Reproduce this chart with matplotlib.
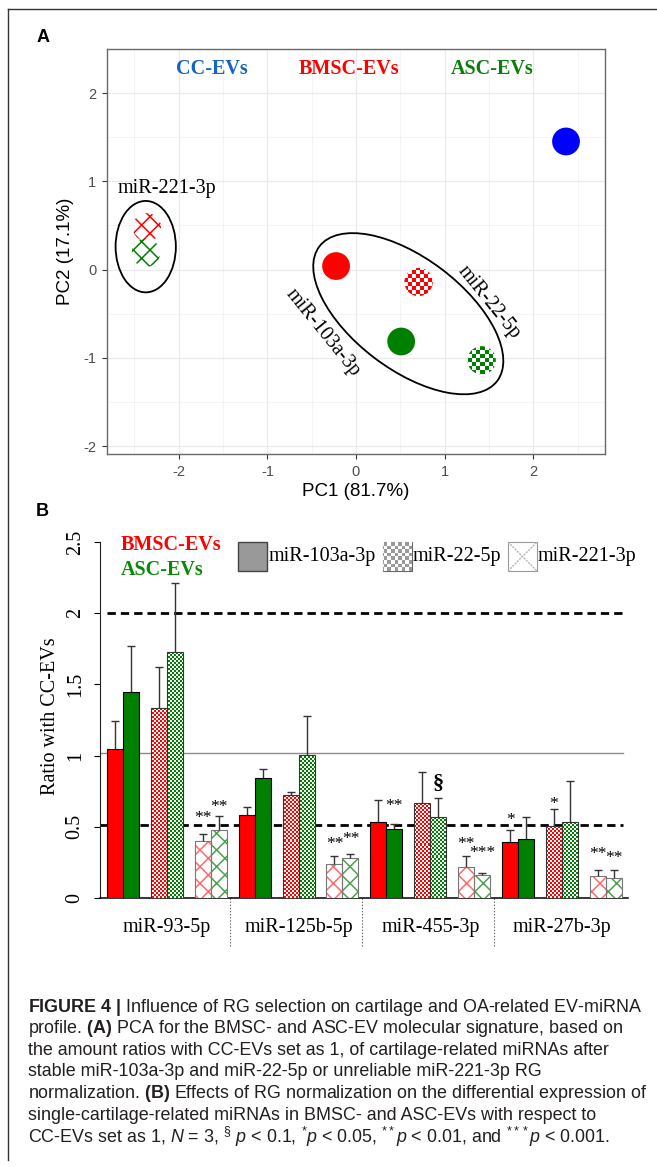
import numpy as np
import matplotlib
matplotlib.use("Agg")
import matplotlib.pyplot as plt
from matplotlib.patches import Circle, Ellipse, Rectangle
from matplotlib.colors import ListedColormap
from matplotlib.lines import Line2D
from matplotlib import font_manager

# ---- panel A: PCA scores ----
pca_names = ["CC-EVs", "BMSC 103a", "BMSC 22", "BMSC 221", "ASC 103a", "ASC 22", "ASC 221"]
pca_pc1 = [2.37, -0.225, 0.706, -2.36, 0.51, 1.418, -2.37]
pca_pc2 = [1.452, 0.04, -0.141, 0.48, -0.815, -1.028, 0.19]
pca_kind = ["solid", "solid", "checker", "cross", "solid", "checker", "cross"]
pca_col = ["#0000ff", "#ff0000", "#ff0000", "#ff0000", "#008000", "#008000", "#008000"]

# ---- panel B: ratio with CC-EVs ----
groups = ["miR-93-5p", "miR-125b-5p", "miR-455-3p", "miR-27b-3p"]
ref_genes = ["miR-103a-3p", "miR-22-5p", "miR-221-3p"]
bmsc_ratio = [[1.044, 1.332, 0.398], [0.580, 0.724, 0.237], [0.532, 0.668, 0.218], [0.390, 0.505, 0.156]]
bmsc_err = [[0.197, 0.289, 0.049], [0.056, 0.017, 0.061], [0.154, 0.215, 0.078], [0.088, 0.123, 0.043]]
asc_ratio = [[1.450, 1.726, 0.477], [0.840, 1.004, 0.281], [0.488, 0.569, 0.164], [0.411, 0.533, 0.140]]
asc_err = [[0.319, 0.484, 0.102], [0.068, 0.272, 0.030], [0.032, 0.136, 0.010], [0.159, 0.288, 0.055]]
# (group, ref gene, 0=BMSC 1=ASC, label, height)
signif = [(0, 2, 0, "**", 0.60), (0, 2, 1, "**", 0.677),
          (1, 2, 0, "**", 0.414), (1, 2, 1, "**", 0.454),
          (2, 0, 1, "**", 0.685), (2, 1, 1, "\u00a7", 0.80), (2, 2, 0, "**", 0.418), (2, 2, 1, "***", 0.35),
          (3, 0, 0, "*", 0.585), (3, 1, 0, "*", 0.70), (3, 2, 0, "**", 0.345), (3, 2, 1, "**", 0.315)]

caption = [
    r"$\mathbf{FIGURE\ 4\ |}$ Influence of RG selection on cartilage and OA-related EV-miRNA",
    r"profile. $\mathbf{(A)}$ PCA for the BMSC- and ASC-EV molecular signature, based on",
    r"the amount ratios with CC-EVs set as 1, of cartilage-related miRNAs after",
    r"stable miR-103a-3p and miR-22-5p or unreliable miR-221-3p RG",
    r"normalization. $\mathbf{(B)}$ Effects of RG normalization on the differential expression of",
    r"single-cartilage-related miRNAs in BMSC- and ASC-EVs with respect to",
    r"CC-EVs set as 1, $\mathit{N}$ = 3, $^{\S}\ \mathit{p}$ < 0.1, $^{*}\mathit{p}$ < 0.05, "
    r"$^{**}\mathit{p}$ < 0.01, and $^{***}\mathit{p}$ < 0.001.",
]

SERIF = "Liberation Serif"
SANS = "Liberation Sans"
names = {f.name for f in font_manager.fontManager.ttflist}
CAPF = "Liberation Sans Narrow" if "Liberation Sans Narrow" in names else SANS

plt.rcParams["axes.unicode_minus"] = False
plt.rcParams["hatch.linewidth"] = 1.1
plt.rcParams["mathtext.fontset"] = "custom"
plt.rcParams["mathtext.rm"] = CAPF
plt.rcParams["mathtext.it"] = CAPF + ":italic"
plt.rcParams["mathtext.bf"] = CAPF + ":bold"

W, H = 657, 1167
fig = plt.figure(figsize=(W / 100, H / 100), dpi=100)


def box(l, t, r, b):
    return [l / W, 1 - b / H, (r - l) / W, (b - t) / H]


def checker_fill(ax, patch, color, cell):
    bb = ax.get_window_extent()
    nx = max(1, int(round(bb.width / cell)))
    ny = max(1, int(round(bb.height / cell)))
    arr = np.add.outer(np.arange(ny), np.arange(nx)) % 2
    im = ax.imshow(arr, cmap=ListedColormap(["white", color]), extent=(0, 1, 0, 1),
                   transform=ax.transAxes, interpolation="nearest", aspect="auto",
                   zorder=patch.get_zorder() + 0.1)
    im.set_clip_path(patch)
    return im


# ================= panel A =================
axA = fig.add_axes(box(107, 49, 605, 454))
r = 0.16
for x, y, k, c in zip(pca_pc1, pca_pc2, pca_kind, pca_col):
    if k == "solid":
        axA.scatter([x], [y], s=400, c=c, edgecolors="none", zorder=3)
    elif k == "checker":
        circ = Circle((x, y), r, facecolor="white", edgecolor="none", zorder=3)
        axA.add_patch(circ)
        checker_fill(axA, circ, c, 4)
    else:
        axA.add_patch(Circle((x, y), r, facecolor="none", edgecolor=c, hatch="xx", lw=0, zorder=3))

axA.add_patch(Ellipse((-2.373, 0.26), 0.68, 1.036, fill=False, edgecolor="black", lw=1.3, zorder=4))
axA.add_patch(Ellipse((0.59, -0.50), 2.52, 1.26, angle=-37.3, fill=False, edgecolor="black", lw=1.3, zorder=4))
axA.text(-2.14, 0.92, "miR-221-3p", family=SERIF, fontsize=14.5, ha="center", va="center")
axA.text(-0.373, -0.71, "miR-103a-3p", family=SERIF, fontsize=14.5, ha="center", va="center", rotation=-51)
axA.text(1.50, -0.37, "miR-22-5p", family=SERIF, fontsize=14.5, ha="center", va="center", rotation=-51)
for lab, xx, col in [("CC-EVs", -1.63, "#1565c0"), ("BMSC-EVs", -0.08, "#ff0000"), ("ASC-EVs", 1.54, "#0a7d0a")]:
    axA.text(xx, 2.277, lab, family=SERIF, fontsize=14.5, weight="bold", color=col, ha="center", va="center")

axA.set_xlim(-2.81, 2.81)
axA.set_ylim(-2.09, 2.49)
axA.set_xticks([-2, -1, 0, 1, 2])
axA.set_yticks([-2, -1, 0, 1, 2])
axA.set_xticks(np.arange(-2.5, 2.6, 1), minor=True)
axA.set_yticks(np.arange(-1.5, 2.6, 1), minor=True)
axA.grid(which="major", color="#ebebeb", lw=0.9, zorder=0)
axA.grid(which="minor", color="#f3f3f3", lw=0.6, zorder=0)
axA.set_axisbelow(True)
axA.tick_params(which="major", length=3.6, width=0.8, color="#333333", labelcolor="#4d4d4d",
                labelsize=10.5, pad=4)
axA.tick_params(which="minor", length=0)
for s in axA.spines.values():
    s.set_color("#6a6a6a")
    s.set_linewidth(1.0)
for t in axA.get_xticklabels() + axA.get_yticklabels():
    t.set_family(SANS)
axA.set_xlabel("PC1 (81.7%)", family=SANS, fontsize=13.5, va="center")
axA.xaxis.set_label_coords(0.5, -38 / 405)
axA.set_ylabel("PC2 (17.1%)", family=SANS, fontsize=13.5, va="center", ha="center")
axA.yaxis.set_label_coords(-42 / 498, 0.5)

# ================= panel B =================
axB = fig.add_axes(box(100, 542, 628, 898))
first, step, bw = 0.75, 2.75, 1.0
light = {"#ff0000": "#ff6b6b", "#008000": "#4fa04f"}
sources = [(bmsc_ratio, bmsc_err, "#ff0000"), (asc_ratio, asc_err, "#008000")]
for g in range(len(groups)):
    for rg in range(len(ref_genes)):
        xl = first + step * (g * 3 + rg)
        for si, (vals, errs, col) in enumerate(sources):
            x = xl + si * bw
            v, e = vals[g][rg], errs[g][rg]
            if rg == 0:
                axB.bar(x, v, bw, align="edge", color=col, edgecolor="black", lw=0.8, zorder=3)
            elif rg == 1:
                b = axB.bar(x, v, bw, align="edge", color="white", edgecolor="none", zorder=3)
                checker_fill(axB, b[0], col, 2)
                axB.bar(x, v, bw, align="edge", fill=False, edgecolor="#333333", lw=0.8, zorder=4)
            else:
                axB.bar(x, v, bw, align="edge", color="white", edgecolor=light[col], hatch="xx", lw=0, zorder=3)
                axB.bar(x, v, bw, align="edge", fill=False, edgecolor="#777777", lw=0.8, zorder=4)
            xc = x + bw / 2
            axB.vlines(xc, v, v + e, color="#333333", lw=1.0, zorder=5)
            axB.hlines(v + e, xc - 0.25, xc + 0.25, color="#333333", lw=1.0, zorder=5)

for g, rg, si, lab, y in signif:
    xc = first + step * (g * 3 + rg) + si * bw + bw / 2
    if lab == "\u00a7":
        axB.text(xc, y, lab, family=SERIF, fontsize=16, weight="bold", ha="center", va="center", zorder=6)
    else:
        axB.text(xc, y - 0.065, lab, family=SERIF, fontsize=12.5, ha="center", va="baseline", zorder=6)

axB.plot([0.75, 33.25], [2.0, 2.0], color="black", lw=2, dashes=(3, 1.8), zorder=2)
axB.plot([0.31, 33.1], [1.02, 1.02], color="#8c8c8c", lw=1, zorder=2)
axB.plot([0.31, 33.05], [0.51, 0.51], color="black", lw=2, dashes=(3, 1.8), zorder=2)

for k in range(1, len(groups)):
    xs = first + step * 3 * k - 0.375 - 0.15
    axB.plot([xs, xs], [0, -0.345], color="#666666", lw=0.8, dashes=(1.2, 1.6), clip_on=False)
for g, name in enumerate(groups):
    xc = first + step * 3 * g + 3.75
    axB.text(xc, -0.204, name, family=SERIF, fontsize=14.5, ha="center", va="center", clip_on=False)

axB.set_xlim(0.31, 33.39)
axB.set_ylim(0, 2.5)
axB.set_xticks([])
axB.set_yticks([0, 0.5, 1, 1.5, 2, 2.5], ["0", "0.5", "1", "1.5", "2", "2.5"])
axB.tick_params(axis="y", length=4, width=0.8, labelsize=14.5, labelrotation=90, pad=7)
for t in axB.get_yticklabels():
    t.set_family(SERIF)
    t.set_va("center")
axB.spines["top"].set_visible(False)
axB.spines["right"].set_visible(False)
axB.spines["left"].set_bounds(0, 2.5)
axB.spines["left"].set_color("#222222")
axB.spines["bottom"].set_color("black")
axB.spines["bottom"].set_linewidth(1.1)
axB.set_ylabel("Ratio with CC-EVs", family=SERIF, fontsize=14.5, va="center", ha="center")
axB.yaxis.set_label_coords(-49 / 528, 0.511)

# legend of panel B (positions in pixels of the figure)
def ax_xy(px, py):
    return (px - 100) / 528, (898 - py) / 356


def swatch(l, t, rr, bt, **kw):
    x0, y1 = ax_xy(l, t)
    x1, y0 = ax_xy(rr, bt)
    p = Rectangle((x0, y0), x1 - x0, y1 - y0, transform=axB.transAxes, clip_on=False, zorder=6, **kw)
    axB.add_patch(p)
    return p, (x0, y0, x1, y1)


swatch(238, 542, 267, 571, facecolor="#999999", edgecolor="#444444", lw=1)
p, _ = swatch(383, 542, 412, 571, facecolor="white", edgecolor="none")
checker_fill(axB, p, "#9a9a9a", 3.6)
swatch(383, 542, 412, 571, fill=False, edgecolor="#666666", lw=0.8)
_, (x0, y0, x1, y1) = swatch(508, 542, 537, 571, facecolor="white", edgecolor="#999999", lw=0.8)
for xa, ya in [((x0, x1), (y0, y1)), ((x0, x1), (y1, y0))]:
    axB.plot(xa, ya, transform=axB.transAxes, color="#b5b5b5", lw=1, dashes=(1.5, 0.8), clip_on=False, zorder=7)
for lab, lx in zip(ref_genes, [269, 413, 538]):
    axB.text(*ax_xy(lx, 557), lab, transform=axB.transAxes, family=SERIF, fontsize=14.5,
             ha="left", va="center", clip_on=False)
fig.text(121 / W, 1 - 550 / H, "BMSC-EVs", family=SERIF, fontsize=14.5, weight="bold", color="#ff0000", va="baseline")
fig.text(121 / W, 1 - 575 / H, "ASC-EVs", family=SERIF, fontsize=14.5, weight="bold", color="#0a8a0a", va="baseline")

# ---- frame and panel letters ----
fig.add_artist(Line2D([8 / W, 1], [1 - 9 / H, 1 - 9 / H], transform=fig.transFigure, color="#333333", lw=1))
fig.add_artist(Line2D([8 / W, 8 / W], [1 - 9 / H, 1 - 1160 / H], transform=fig.transFigure, color="#333333", lw=1))
fig.text(43 / W, 1 - 38 / H, "A", family=SANS, weight="bold", fontsize=13, ha="center", va="center")
fig.text(42 / W, 1 - 512 / H, "B", family=SANS, weight="bold", fontsize=13, ha="center", va="center")

# ---- caption ----
cap_texts = []
for i, line in enumerate(caption):
    cap_texts.append(fig.text(28 / W, 1 - (1007 + 21.6 * i) / H, line, family=CAPF, fontsize=12,
                              color="#231f20", ha="left", va="center"))
renderer = fig.canvas.get_renderer()
wpx = cap_texts[0].get_window_extent(renderer).width
fs = 12 * 612 / wpx
for t in cap_texts:
    t.set_fontsize(fs)

fig.savefig("out.png", dpi=100)
